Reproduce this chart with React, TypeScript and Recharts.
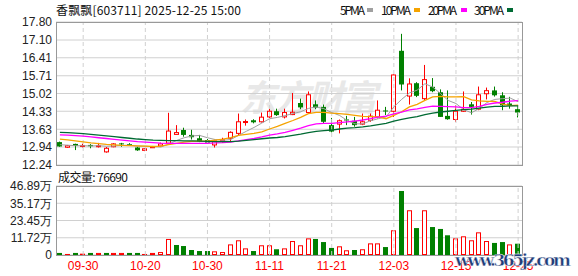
import { ComposedChart, Bar, Line, XAxis, YAxis, CartesianGrid, ReferenceLine } from 'recharts';

const dates = [
  '09-25', '09-26', '09-29', '09-30', '10-09', '10-10', '10-13', '10-14', '10-15', '10-16',
  '10-17', '10-20', '10-21', '10-22', '10-23', '10-24', '10-27', '10-28', '10-29', '10-30',
  '10-31', '11-03', '11-04', '11-05', '11-06', '11-07', '11-10', '11-11', '11-12', '11-13',
  '11-14', '11-17', '11-18', '11-19', '11-20', '11-21', '11-24', '11-25', '11-26', '11-27',
  '11-28', '12-01', '12-02', '12-03', '12-04', '12-05', '12-08', '12-09', '12-10', '12-11',
  '12-12', '12-15', '12-16', '12-17', '12-18', '12-19', '12-22', '12-23', '12-24', '12-25',
];

const opens = [
  13.13, 12.93, 13.06, 12.99, 13.02, 12.98, 12.75, 12.95, 13.08, 13.05,
  12.92, 12.81, 12.93, 12.98, 13.09, 13.43, 13.6, 13.41, 13.28, 13.21,
  13.02, 13.19, 13.28, 13.47, 13.9, 13.98, 13.92, 14.11, 14.33, 14.11,
  14.2, 14.65, 14.28, 14.6, 14.5, 13.79, 13.83, 14.01, 13.96, 13.83,
  13.98, 14.11, 14.36, 14.33, 16.68, 14.92, 15.42, 14.82, 15.28, 15.07,
  14.15, 14.01, 14.33, 14.6, 14.41, 15.01, 15.14, 14.95, 14.63, 14.41,
];
const highs = [
  13.15, 13.02, 13.07, 13.07, 13.05, 13.1, 12.94, 13.09, 13.1, 13.09,
  12.95, 12.9, 12.98, 13.11, 14.27, 13.79, 13.69, 13.61, 13.41, 13.25,
  13.22, 13.3, 13.55, 14.24, 14.01, 14.02, 14.28, 14.43, 14.43, 14.43,
  15.04, 14.82, 15.1, 14.75, 14.59, 14.07, 14.01, 14.15, 14.11, 14.24,
  14.24, 14.75, 14.5, 15.76, 17.34, 15.61, 15.46, 16.13, 15.62, 15.18,
  15.14, 14.56, 15.1, 14.69, 15.29, 15.25, 15.29, 15.07, 14.89, 14.56,
];
const lows = [
  12.95, 12.9, 12.82, 12.92, 12.89, 12.92, 12.72, 12.93, 12.95, 12.98,
  12.79, 12.78, 12.9, 12.95, 13.05, 13.42, 13.34, 13.23, 13.13, 13.1,
  12.92, 13.1, 13.13, 13.4, 13.77, 13.86, 13.89, 14.07, 14.15, 14.05,
  14.18, 14.41, 14.24, 14.41, 13.86, 13.51, 13.47, 13.79, 13.73, 13.79,
  13.92, 14.05, 14.18, 14.11, 15.14, 14.59, 14.88, 14.75, 15.07, 14.11,
  14.0, 13.92, 14.3, 14.2, 14.37, 14.79, 14.9, 14.37, 14.43, 14.09,
];
const closes = [
  12.96, 12.99, 12.98, 13.0, 12.97, 12.99, 12.89, 13.06, 13.07, 13.03,
  12.81, 12.87, 12.95, 13.06, 13.56, 13.5, 13.41, 13.32, 13.15, 13.11,
  13.18, 13.22, 13.51, 13.92, 13.93, 13.9, 14.1, 14.33, 14.18, 14.28,
  14.29, 14.48, 14.97, 14.47, 13.92, 13.54, 13.96, 13.98, 13.79, 13.92,
  14.14, 14.37, 14.33, 15.74, 15.37, 15.39, 14.93, 15.56, 15.11, 14.11,
  14.02, 14.33, 14.4, 14.5, 14.97, 15.13, 14.95, 14.56, 14.57, 14.28,
];
const volumes = [
  14000, 7000, 14000, 9000, 14000, 14000, 14000, 14000, 14000, 14000,
  14000, 7000, 14000, 20000, 109000, 68000, 61000, 34000, 27000, 27000,
  25000, 20000, 72000, 100000, 45000, 27000, 66000, 66000, 39000, 45000,
  95000, 66000, 113000, 109000, 88000, 48000, 59000, 32000, 34000, 39000,
  79000, 79000, 54000, 168000, 435000, 304000, 183000, 304000, 190000, 177000,
  134000, 113000, 127000, 100000, 154000, 95000, 82000, 88000, 72000, 76690,
];

const ma5 = [
  13.03, 13.01, 12.99, 12.99, 12.98, 12.99, 12.97, 12.98, 13.0, 13.01,
  12.97, 12.97, 12.95, 12.94, 13.05, 13.19, 13.3, 13.37, 13.39, 13.3,
  13.23, 13.2, 13.23, 13.39, 13.55, 13.7, 13.87, 14.04, 14.09, 14.16,
  14.24, 14.31, 14.44, 14.5, 14.43, 14.28, 14.17, 13.97, 13.84, 13.84,
  13.96, 14.04, 14.11, 14.5, 14.79, 15.04, 15.15, 15.4, 15.27, 15.02,
  14.75, 14.63, 14.39, 14.27, 14.44, 14.67, 14.79, 14.82, 14.84, 14.7,
];
const ma10 = [
  13.25, 13.22, 13.18, 13.14, 13.1, 13.07, 13.04, 13.02, 13.0, 12.99,
  12.98, 12.97, 12.96, 12.97, 13.03, 13.08, 13.13, 13.16, 13.17, 13.17,
  13.21, 13.25, 13.3, 13.39, 13.43, 13.47, 13.53, 13.64, 13.74, 13.86,
  13.97, 14.09, 14.24, 14.29, 14.29, 14.26, 14.24, 14.21, 14.17, 14.13,
  14.12, 14.11, 14.04, 14.17, 14.31, 14.5, 14.6, 14.75, 14.89, 14.91,
  14.89, 14.89, 14.9, 14.77, 14.73, 14.71, 14.71, 14.61, 14.55, 14.57,
];
const ma20 = [
  13.41, 13.4, 13.38, 13.36, 13.33, 13.3, 13.27, 13.24, 13.21, 13.18,
  13.15, 13.13, 13.11, 13.09, 13.08, 13.08, 13.08, 13.08, 13.08, 13.08,
  13.1, 13.11, 13.13, 13.18, 13.23, 13.27, 13.33, 13.4, 13.45, 13.51,
  13.59, 13.67, 13.77, 13.84, 13.86, 13.86, 13.89, 13.92, 13.95, 13.99,
  14.04, 14.1, 14.14, 14.23, 14.3, 14.38, 14.42, 14.48, 14.53, 14.52,
  14.51, 14.5, 14.47, 14.47, 14.52, 14.6, 14.65, 14.68, 14.72, 14.74,
];
const ma30 = [
  13.51, 13.5, 13.48, 13.46, 13.43, 13.4, 13.37, 13.34, 13.31, 13.28,
  13.25, 13.23, 13.21, 13.2, 13.19, 13.19, 13.18, 13.18, 13.17, 13.16,
  13.15, 13.15, 13.15, 13.17, 13.2, 13.23, 13.26, 13.29, 13.31, 13.34,
  13.39, 13.44, 13.5, 13.55, 13.58, 13.6, 13.64, 13.67, 13.69, 13.72,
  13.76, 13.81, 13.86, 13.95, 14.01, 14.07, 14.12, 14.2, 14.26, 14.3,
  14.33, 14.36, 14.39, 14.41, 14.45, 14.49, 14.52, 14.52, 14.54, 14.54,
];

const priceTicks = [12.24, 12.94, 13.63, 14.33, 15.02, 15.71, 16.41, 17.1, 17.8];
const volTicks = [0, 117225, 234450, 351675, 468900];
const volTickLabels = ['0', '11.72万', '23.45万', '35.17万', '46.89万'];
const dateTicks = ['09-30', '10-20', '10-30', '11-11', '11-21', '12-03', '12-15', '12-25'];

const data = dates.map((date, i) => ({
  date,
  open: opens[i],
  high: highs[i],
  low: lows[i],
  close: closes[i],
  prevClose: i > 0 ? closes[i - 1] : opens[i],
  vol: volumes[i],
  ma5: ma5[i],
  ma10: ma10[i],
  ma20: ma20[i],
  ma30: ma30[i],
}));

const UP = '#ff0000';
const DOWN = '#008000';
const GRID = '#d0d0d0';
const tickFont = { fontSize: 12, fill: '#222', fontFamily: 'Liberation Sans, Arial, sans-serif' };

function Candle(props: any) {
  const { x, y, width, height, payload } = props;
  const { open, close, high, low } = payload;
  const top = Math.min(y, y + height);
  const h = Math.abs(height);
  const k = high > low ? h / (high - low) : 0;
  const left = Math.round(x);
  const w = Math.round(width);
  const cx = left + w / 2;
  const color = close >= open ? UP : DOWN;
  const bTop = top + (high - Math.max(open, close)) * k;
  const bH = Math.max(Math.abs(close - open) * k, 1);
  return (
    <g>
      <line x1={cx} x2={cx} y1={top} y2={top + h} stroke={color} strokeWidth={1} />
      {close === open ? (
        <line x1={left} x2={left + w} y1={bTop} y2={bTop} stroke={color} strokeWidth={1} />
      ) : close > open ? (
        <rect x={left + 0.5} y={bTop} width={w - 1} height={bH} fill="#fff" stroke={color} strokeWidth={1} />
      ) : (
        <rect x={left} y={bTop} width={w} height={bH} fill={color} />
      )}
    </g>
  );
}

function VolBar(props: any) {
  const { x, y, width, height, payload } = props;
  const left = Math.round(x);
  const w = Math.round(width);
  if (payload.close >= payload.prevClose) {
    return <rect x={left + 0.5} y={y + 0.5} width={w - 1} height={Math.max(height - 1, 0)} fill="#fff" stroke={UP} strokeWidth={1} />;
  }
  return <rect x={left} y={y} width={w} height={height} fill={DOWN} />;
}

export default function App() {
  return (
    <div style={{ position: 'absolute', left: 0, top: 0, width: 578, height: 276, background: '#fff', overflow: 'hidden' }}>
      <svg width={578} height={276} style={{ position: 'absolute', left: 0, top: 0 }}>
        <text x={240} y={111} fontSize={36} fontWeight="bold" fontStyle="italic" fill="#e8e8e8"
          fontFamily="Noto Sans CJK SC" textLength={137}>东方财富</text>
      </svg>

      <div style={{ position: 'absolute', left: 0, top: 0 }}>
        <ComposedChart width={578} height={174} data={data} margin={{ top: 22, right: 56, bottom: 9, left: 0 }}>
          <CartesianGrid vertical={false} stroke={GRID} />
          <XAxis dataKey="date" hide />
          <YAxis domain={[12.24, 17.8]} ticks={priceTicks} interval={0} allowDataOverflow width={56}
            axisLine={false} tickLine={false} tickSize={2} tickMargin={2}
            tick={tickFont} tickFormatter={(v: number) => v.toFixed(2)} />
          {dateTicks.map((d) => (
            <ReferenceLine key={d} x={d} stroke={GRID} strokeDasharray="4 3" />
          ))}
          <Bar dataKey={(d: any) => [d.low, d.high]} barSize={5} shape={(p: any) => <Candle {...p} />} isAnimationActive={false} />
          <Line dataKey="ma5" stroke="#a0a0a0" strokeWidth={1} dot={false} activeDot={false} isAnimationActive={false} />
          <Line dataKey="ma10" stroke="#f5a300" strokeWidth={1.3} dot={false} activeDot={false} isAnimationActive={false} />
          <Line dataKey="ma20" stroke="#ff00ff" strokeWidth={1.3} dot={false} activeDot={false} isAnimationActive={false} />
          <Line dataKey="ma30" stroke="#006a33" strokeWidth={1.3} dot={false} activeDot={false} isAnimationActive={false} />
        </ComposedChart>
      </div>

      <div style={{ position: 'absolute', left: 0, top: 170 }}>
        <ComposedChart width={578} height={106} data={data} margin={{ top: 16, right: 56, bottom: 0, left: 0 }}>
          <CartesianGrid vertical={false} stroke={GRID} />
          <XAxis dataKey="date" ticks={dateTicks} interval={0} height={21}
            axisLine={false} tickLine={false} tickSize={4} tickMargin={2}
            tick={{ ...tickFont, fill: '#ff0000' }} />
          <YAxis domain={[0, 468900]} ticks={volTicks} interval={0} allowDataOverflow width={56}
            axisLine={false} tickLine={false} tickSize={2} tickMargin={2}
            tick={tickFont} tickFormatter={(v: number) => volTickLabels[volTicks.indexOf(v)] ?? ''} />
          {dateTicks.map((d) => (
            <ReferenceLine key={d} x={d} stroke={GRID} strokeDasharray="4 3" />
          ))}
          <Bar dataKey="vol" barSize={5} shape={(p: any) => <VolBar {...p} />} isAnimationActive={false} />
        </ComposedChart>
      </div>

      <svg width={578} height={276} style={{ position: 'absolute', left: 0, top: 0, pointerEvents: 'none' }}>
        <rect x={56.5} y={22.5} width={466} height={143} fill="none" stroke="#999" strokeWidth={1} />
        <rect x={56.5} y={186.5} width={466} height={69} fill="none" stroke="#999" strokeWidth={1} />
        <g fontSize={12} fill="#111" fontFamily="'Noto Sans CJK SC', 'Liberation Mono', monospace">
          <text x={56} y={15} textLength={185}>香飘飘[603711] 2025-12-25 15:00</text>
          <text x={340} y={15} textLength={25}>5PMA</text>
          <text x={381} y={15} textLength={30}>10PMA</text>
          <text x={428} y={15} textLength={29}>20PMA</text>
          <text x={474} y={15} textLength={30}>30PMA</text>
          <text x={58} y={182} textLength={70}>成交量: 76690</text>
        </g>
        <rect x={367} y={8} width={6} height={4} fill="#a0a0a0" />
        <rect x={414} y={8} width={6} height={4} fill="#f5a300" />
        <rect x={461} y={8} width={6} height={4} fill="#ff00ff" />
        <rect x={507} y={8} width={6} height={4} fill="#006a33" />
        <text x={455} y={266} fontSize={17} fontWeight="bold" fill="#1f3d7a" stroke="#fff" strokeWidth={0.4}
          fontFamily="'DejaVu Serif', serif" textLength={116}>www.365jz.com</text>
      </svg>
    </div>
  );
}
